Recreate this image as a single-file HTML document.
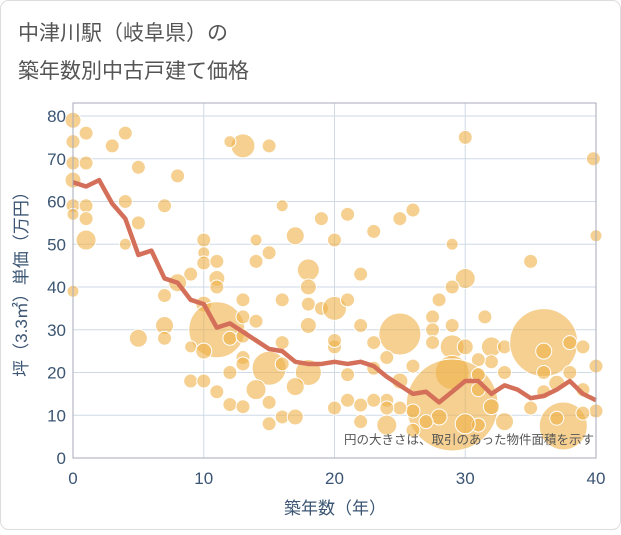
<!DOCTYPE html>
<html><head><meta charset="utf-8"><style>
body{margin:0;background:#fff;}
svg text{font-family:"Liberation Sans","Noto Sans CJK JP",sans-serif;}
</style></head><body>
<svg width="621" height="530" xmlns="http://www.w3.org/2000/svg">
<rect x="0.5" y="0.5" width="620" height="529" rx="8" fill="#fff" stroke="#ddd"/>
<text x="18" y="40" font-size="21" fill="#555">中津川駅（岐阜県）の</text>
<text x="18" y="78" font-size="21" fill="#555">築年数別中古戸建て価格</text>
<g id="grid"></g>
<g id="bubbles"></g>
<g id="line"></g>
<rect x="73" y="103" width="523" height="355" fill="none" stroke="#aab" stroke-width="1"/>
<g id="ticks"></g>
<text x="335" y="514" font-size="17" fill="#3b5573" text-anchor="middle">築年数（年）</text>
<text transform="translate(27,280) rotate(-90)" font-size="17" fill="#3b5573" text-anchor="middle">坪（3.3㎡）単価（万円）</text>
<text x="594" y="444" font-size="12.5" fill="#555" text-anchor="end">円の大きさは、取引のあった物件面積を示す</text>
</svg>
<script>
const xTicks=[0,10,20,30,40];
const yTicks=[0,10,20,30,40,50,60,70,80];
const lineYears=[0,1,2,3,4,5,6,7,8,9,10,11,12,13,14,15,16,17,18,19,20,21,22,23,24,25,26,27,28,29,30,31,32,33,34,35,36,37,38,39,40];
const lineValues=[64.5,63.5,65,59.5,56,47.5,48.5,42,41,37,36,30.5,31.5,29.5,27.5,25.5,25,22.5,22,22,22.5,22,22.5,21.5,19,17,15,15.5,13,15.5,18,18,15,17,16,14,14.5,16,18,15,13.5];
const bubbleYears=[0,1,4,3,13,12,15,0,0,1,0,5,8,0,1,4,7,1,5,0,16,19,20,17,1,4,10,10,10,14,15,14,11,18,18,11,11,9,8,0,7,10,13,16,18,19,20,7,7,5,11,13,14,18,12,13,9,10,16,13,15,16,18,14,13,12,9,10,11,17,15,12,13,16,17,15,
21,25,26,23,29,30,39.8,40,35,22,30,29,28,21,31.5,27.5,25,22,29,27.5,27.5,23,29,30,32,33,36,36,38,39,40,32,31,26,24,20,20,29,29,37.5,37,35,36,36,38,37,39,40,33,33,31,31,32,31,30,28,27,26,26,25,25,24,24,24,23,23,22,22,21,21,20,39];
const bubbleValues=[79,76,76,73,73,74,73,74,69,69,65,68,66,59,59,60,59,56,55,57,59,56,51,52,51,50,51,48,45.6,51,48,46,46,44,40,42,40,43,41,39,38,36,37,37,36,35,35,31,28,28,30,33,32,31,28,28.5,26,25,27,23.5,21,22,20,16,22,20,18,18,15.5,16.7,13,12.5,12,9.6,9.6,8,
57,56,58,53,50,75,70,52,46,43,42,40,37,37,33,33,29,31,31,30,27,27,26,26,26,26,27,25,27,26,21.5,22.5,23,21.5,23.5,26,27.5,20,12.4,7.5,9.3,11.7,15.5,20,20,17.5,16,11,20,8.5,19.5,16,12,7.7,8,9.6,8.5,6.5,11,18,11.7,7.7,13.5,11.7,13.5,21,12.4,8.5,13.5,19.5,11.7,10.5];
const bubbleSizes=[8,7,7,7,12,6,7,7,7,7,8,7,7,7,7,7,7,7,7,6,6,7,7,9,10,6,7,6,7,6,7,7,7,11,8,8,7,7,9,6,7,8,7,7,7,7,12,9,7,9,28,7,7,8,7,7,6,8,7,7,17,7,13,10,7,7,7,7,7,9,7,7,7,7,8,7,
7,7,7,7,6,7,7,6,7,7,10,7,7,7,7,7,21,7,7,7,7,7,12,8,10,7,34,8,7,7,7,7,7,7,7,7,7,17,46,24,7,7,7,7,7,8,7,7,7,9,7,7,8,7,10,8,7,7,7,8,7,10,7,7,7,7,7,7,7,7,7,7];
const X0=73,X1=596,Y0=458,PER=4.275;
const xs=v=>X0+(X1-X0)*v/40;
const ys=v=>Y0-v*PER;
const NS="http://www.w3.org/2000/svg";
const grid=document.getElementById('grid'),ticks=document.getElementById('ticks');
yTicks.forEach(t=>{
 const l=document.createElementNS(NS,'line');
 l.setAttribute('x1',X0);l.setAttribute('x2',X1);l.setAttribute('y1',ys(t));l.setAttribute('y2',ys(t));
 l.setAttribute('stroke','#cfdae6');
 
 
 grid.appendChild(l);
 const tx=document.createElementNS(NS,'text');
 tx.setAttribute('x',66);tx.setAttribute('y',ys(t)+6);tx.setAttribute('text-anchor','end');
 tx.setAttribute('font-size','17');tx.setAttribute('fill','#3b5573');tx.textContent=t;
 
 
 ticks.appendChild(tx);
});
xTicks.forEach(t=>{
 const l=document.createElementNS(NS,'line');
 l.setAttribute('x1',xs(t));l.setAttribute('x2',xs(t));l.setAttribute('y1',103);l.setAttribute('y2',Y0);
 l.setAttribute('stroke','#cfdae6');
 
 
 grid.appendChild(l);
 const tx=document.createElementNS(NS,'text');
 tx.setAttribute('x',xs(t));tx.setAttribute('y',484);tx.setAttribute('text-anchor','middle');
 tx.setAttribute('font-size','17');tx.setAttribute('fill','#3b5573');tx.textContent=t;
 
 
 ticks.appendChild(tx);
});
const bg=document.getElementById('bubbles');
bubbleYears.forEach((yr,i)=>{
 const c=document.createElementNS(NS,'circle');
 c.setAttribute('cx',xs(yr));c.setAttribute('cy',ys(bubbleValues[i]));c.setAttribute('r',bubbleSizes[i]);
 c.setAttribute('fill','rgba(238,176,72,0.6)');c.setAttribute('stroke','#fff');c.setAttribute('stroke-width','1');
 
 
 bg.appendChild(c);
});
const p=document.createElementNS(NS,'polyline');
p.setAttribute('points',lineYears.map((y,i)=>xs(y)+','+ys(lineValues[i])).join(' '));
p.setAttribute('fill','none');p.setAttribute('stroke','#d4705a');p.setAttribute('stroke-width','4.5');p.setAttribute('stroke-linejoin','round');


document.getElementById('line').appendChild(p);
</script>
</body></html>
